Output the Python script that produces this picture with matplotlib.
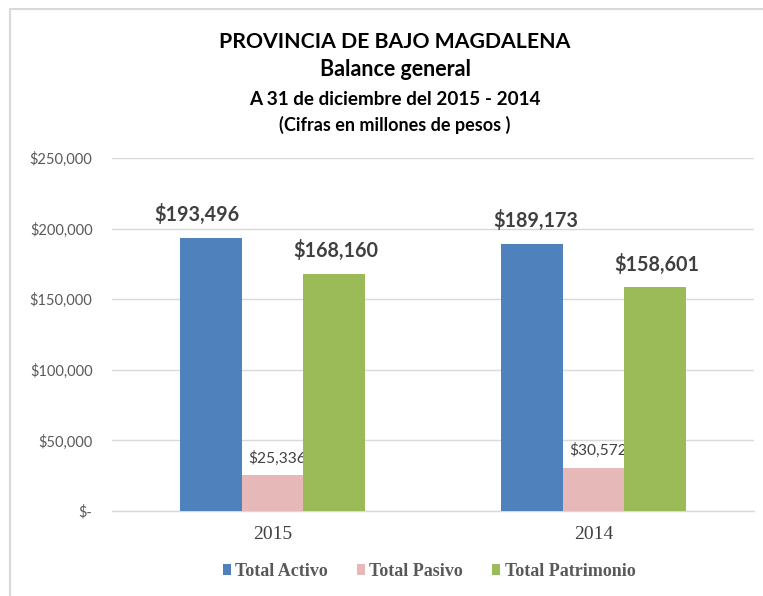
import matplotlib
matplotlib.use("Agg")
import matplotlib.pyplot as plt
import numpy as np
from matplotlib.patches import Rectangle
from matplotlib.ticker import FuncFormatter

years = ["2015", "2014"]
series = ["Total Activo", "Total Pasivo", "Total Patrimonio"]
activo = [193496, 189173]
pasivo = [25336, 30572]
patrimonio = [168160, 158601]
colors = ["#4F81BD", "#E6B9B8", "#9BBB59"]
title_lines = ["PROVINCIA DE BAJO MAGDALENA", "Balance general",
               "A 31 de diciembre del 2015 - 2014", "(Cifras en millones de pesos )"]

W, H = 763, 596
fig = plt.figure(figsize=(W / 100, H / 100), dpi=100)
fig.patch.set_facecolor("white")

# chart border
fig.patches.append(Rectangle((10 / W, -0.1), 1.2, 1 - 9 / H + 0.1, transform=fig.transFigure,
                             fill=False, edgecolor="#D9D9D9", linewidth=1.5))

ax = fig.add_axes([112 / W, 1 - 511 / H, (754 - 112) / W, (511 - 158) / H])
x = np.arange(len(years))
bw = 0.192
vals = [activo, pasivo, patrimonio]
label_dx = [[-10, 3], [3, 3], [1, 1]]
for i, (name, v, c) in enumerate(zip(series, vals, colors)):
    bars = ax.bar(x + (i - 1) * bw, v, bw, color=c, label=name, zorder=3)
    for j, (b, val) in enumerate(zip(bars, v)):
        if i == 1:
            ax.annotate(f"${val:,.0f}", (b.get_x() + b.get_width() / 2, val),
                        xytext=(label_dx[i][j], 7), textcoords="offset points", ha="center", va="bottom",
                        fontsize=11.2, color="#404040", family="Lato")
        else:
            ax.annotate(f"${val:,.0f}", (b.get_x() + b.get_width() / 2, val),
                        xytext=(label_dx[i][j], 9), textcoords="offset points", ha="center", va="bottom",
                        fontsize=14.2, fontweight="bold", color="#404040", family="Lato")

ax.set_xlim(-0.5, 1.5)
ax.set_ylim(0, 250000)
ax.set_yticks(np.arange(0, 250001, 50000))
ax.yaxis.set_major_formatter(FuncFormatter(lambda v, p: "$-" if v == 0 else f"${v:,.0f}"))
ax.set_xticks(x)
ax.set_xticklabels(years)
ax.grid(axis="y", color="#D9D9D9", linewidth=1, zorder=0)
for s in ["top", "right", "left"]:
    ax.spines[s].set_visible(False)
ax.spines["bottom"].set_color("#D9D9D9")
ax.spines["bottom"].set_linewidth(1)
ax.tick_params(axis="both", length=0)
ax.tick_params(axis="y", pad=14, labelsize=10.5, labelcolor="#595959")
ax.tick_params(axis="x", pad=11, labelsize=14, labelcolor="#404040")
for t in ax.get_yticklabels():
    t.set_family("Lato")
for t in ax.get_xticklabels():
    t.set_family("Liberation Serif")

ys = [42, 70, 99, 125]
sizes = [15.3, 15.5, 13.6, 13]
for line, yy, sz in zip(title_lines, ys, sizes):
    fig.text(395 / W, 1 - yy / H, line, ha="center", va="center", fontsize=sz,
             fontweight="bold", family="Lato", color="black")

leg = fig.legend(loc="center", bbox_to_anchor=(429 / W, 1 - 571 / H), ncol=3, frameon=False,
                 prop={"family": "Liberation Serif", "weight": "bold", "size": 13},
                 handlelength=0.45, handleheight=0.55, handletextpad=0.25, columnspacing=1.6)
for t in leg.get_texts():
    t.set_color("#595959")

fig.savefig("out.png", dpi=100)
